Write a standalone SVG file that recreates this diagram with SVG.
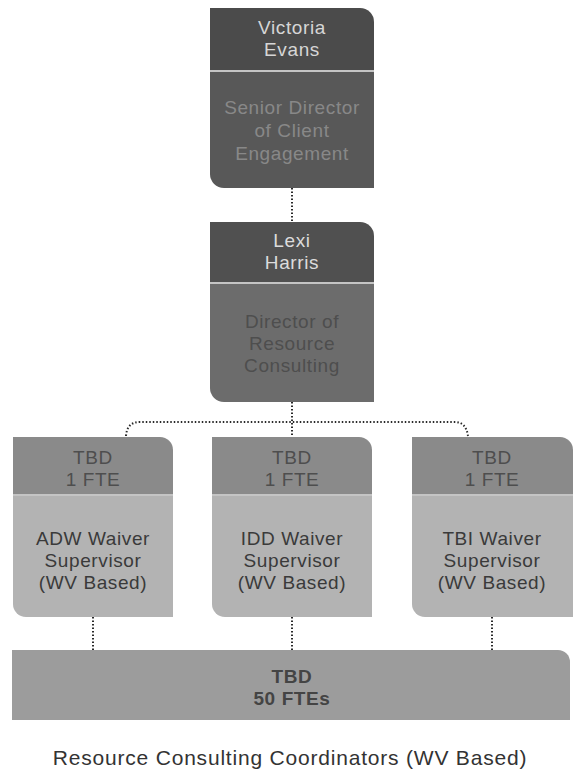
<svg xmlns="http://www.w3.org/2000/svg" width="579" height="777" viewBox="0 0 579 777">
<style>
text{font-family:"Liberation Sans",Arial,sans-serif;font-size:19px;text-anchor:middle;letter-spacing:0.6px}
.conn{fill:none;stroke:#2a2a2a;stroke-width:2;stroke-dasharray:1.5 2}
.div{stroke:#c4c4c4;stroke-width:2}
.h1{fill:#4b4b4b}.b1{fill:#585858}.t1h{fill:#d6d6d6}.t1b{fill:#888}
.h2{fill:#505050}.b2{fill:#6c6c6c}.t2h{fill:#dcdcdc}.t2b{fill:#4e4e4e}
.h3{fill:#8a8a8a}.b3{fill:#b3b3b3}.t3h{fill:#4e4e4e}.t3b{fill:#3a3a3a}
.label{font-size:21px;letter-spacing:0.8px;fill:#333}
</style>
<rect width="579" height="777" fill="#fff"/>
<g id="connectors">
<path class="conn" d="M292,188 V222"/>
<path class="conn" d="M292,402 V437"/>
<path class="conn" d="M126,436 Q127,422 140,422 H455 Q466,422 468,436"/>
<path class="conn" d="M93,617 V650"/>
<path class="conn" d="M292,617 V650"/>
<path class="conn" d="M492,617 V650"/>
</g>
<g id="victoria-evans">
<path class="h1" d="M210,8 H360 A14,14 0 0 1 374,22 V70 H210 Z"/>
<path class="b1" d="M210,72 H374 V188 H224 A14,14 0 0 1 210,174 Z"/>
<line class="div" x1="210" y1="71" x2="374" y2="71"/>
<text class="t1h" x="292" y="34">Victoria</text>
<text class="t1h" x="292" y="56">Evans</text>
<text class="t1b" x="292" y="114">Senior Director</text>
<text class="t1b" x="292" y="137">of Client</text>
<text class="t1b" x="292" y="160">Engagement</text>
</g>
<g id="lexi-harris">
<path class="h2" d="M210,222 H360 A14,14 0 0 1 374,236 V282 H210 Z"/>
<path class="b2" d="M210,284 H374 V402 H224 A14,14 0 0 1 210,388 Z"/>
<line class="div" x1="210" y1="283" x2="374" y2="283"/>
<text class="t2h" x="292" y="247">Lexi</text>
<text class="t2h" x="292" y="269">Harris</text>
<text class="t2b" x="292" y="328">Director of</text>
<text class="t2b" x="292" y="350">Resource</text>
<text class="t2b" x="292" y="372">Consulting</text>
</g>
<g id="adw">
<path class="h3" d="M13,437 H160 A13,13 0 0 1 173,450 V494 H13 Z"/>
<path class="b3" d="M13,496 H173 V617 H26 A13,13 0 0 1 13,604 Z"/>
<line class="div" x1="13" y1="495" x2="173" y2="495"/>
<text class="t3h" x="93" y="464">TBD</text>
<text class="t3h" x="93" y="486">1 FTE</text>
<text class="t3b" x="93" y="545">ADW Waiver</text>
<text class="t3b" x="93" y="567">Supervisor</text>
<text class="t3b" x="93" y="589">(WV Based)</text>
</g>
<g id="idd">
<path class="h3" d="M212,437 H359 A13,13 0 0 1 372,450 V494 H212 Z"/>
<path class="b3" d="M212,496 H372 V617 H225 A13,13 0 0 1 212,604 Z"/>
<line class="div" x1="212" y1="495" x2="372" y2="495"/>
<text class="t3h" x="292" y="464">TBD</text>
<text class="t3h" x="292" y="486">1 FTE</text>
<text class="t3b" x="292" y="545">IDD Waiver</text>
<text class="t3b" x="292" y="567">Supervisor</text>
<text class="t3b" x="292" y="589">(WV Based)</text>
</g>
<g id="tbi">
<path class="h3" d="M412,437 H560 A13,13 0 0 1 573,450 V494 H412 Z"/>
<path class="b3" d="M412,496 H573 V617 H425 A13,13 0 0 1 412,604 Z"/>
<line class="div" x1="412" y1="495" x2="573" y2="495"/>
<text class="t3h" x="492" y="464">TBD</text>
<text class="t3h" x="492" y="486">1 FTE</text>
<text class="t3b" x="492" y="545">TBI Waiver</text>
<text class="t3b" x="492" y="567">Supervisor</text>
<text class="t3b" x="492" y="589">(WV Based)</text>
</g>
<g id="coordinators">
<path fill="#9c9c9c" d="M12,650 H558 A12,12 0 0 1 570,662 V720 H12 Z"/>
<text fill="#444" font-weight="bold" x="292" y="683">TBD</text>
<text fill="#444" font-weight="bold" x="292" y="705">50 FTEs</text>
</g>
<text class="label" x="290" y="765">Resource Consulting Coordinators (WV Based)</text>
</svg>
